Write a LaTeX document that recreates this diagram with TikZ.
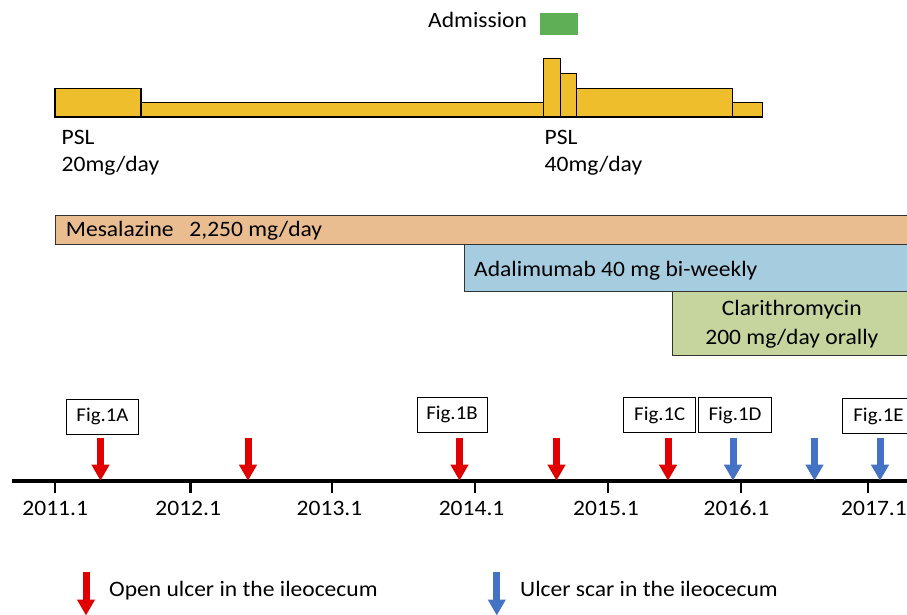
\documentclass[tikz,border=0pt]{standalone}
\usepackage{fontspec}
\setmainfont{Carlito}[FakeStretch=1.07]
\usetikzlibrary{arrows.meta}
\definecolor{pslY}{HTML}{EEBE2D}
\definecolor{mesaC}{HTML}{E9BD90}
\definecolor{adaC}{HTML}{A6CCDF}
\definecolor{claC}{HTML}{C6D59D}
\definecolor{admC}{HTML}{5EAF56}
\definecolor{redA}{HTML}{E00000}
\definecolor{blueA}{HTML}{4472C4}
\tikzset{
  bar/.style={draw=black, line width=1.3pt, fill=pslY},
  txt/.style={font=\fontsize{22}{26}\selectfont, inner sep=0pt},
  drugbox/.style={draw=black!80, line width=1pt},
  figbox/.style={draw=black, line width=1pt, font=\fontsize{19.5}{24}\selectfont, inner sep=0pt, minimum height=35pt},
  ulcer/.style={draw=redA, line width=7pt, -{Triangle[width=17pt,length=16pt]}},
  scar/.style={draw=blueA, line width=7pt, -{Triangle[width=17pt,length=16pt]}},
}
\begin{document}
\begin{tikzpicture}[x=1pt,y=-1pt]
\clip (0,0) rectangle (907,615);
\fill[white] (0,0) rectangle (907,615);

% Admission
\node[txt, anchor=base west] (adm) at (428,27.3) {Admission};
\fill[admC] (540,12.7) rectangle (577.7,35.3);

% PSL bars
\draw[bar] (55,88.3) rectangle (141,117);
\draw[bar] (141,102.3) rectangle (543.3,117);
\draw[bar] (543.3,58.3) rectangle (560.7,117);
\draw[bar] (560.7,73.3) rectangle (576.7,117);
\draw[bar] (576.7,88.3) rectangle (732.3,117);
\draw[bar] (732.3,102.3) rectangle (762.3,117);

\node[txt, anchor=base west] (psl1) at (61.5,145) {PSL};
\node[txt, anchor=base west] (dose1) at (61.5,171.7) {20mg/day};
\node[txt, anchor=base west] (psl2) at (544.5,145) {PSL};
\node[txt, anchor=base west] (dose2) at (544.5,171.7) {40mg/day};

% drug bars
\draw[drugbox, fill=mesaC] (55,215) rectangle (915,244);
\node[txt, anchor=base west] (mesa) at (65.7,236.7) {Mesalazine\hspace{0.72em}2,250 mg/day};
\draw[drugbox, fill=adaC] (464.3,244.3) rectangle (915,291.7);
\node[txt, anchor=base west] (ada) at (474,276) {Adalimumab 40 mg bi-weekly};
\draw[drugbox, fill=claC] (672.7,291.7) rectangle (915,355.7);
\node[txt, anchor=base] (cla1) at (791.8,315) {Clarithromycin};
\node[txt, anchor=base] (cla2) at (791.8,344.3) {200 mg/day orally};

% timeline axis
\coordinate (axL) at (12,481);
\coordinate (axR) at (910,481);
\draw[line width=3.3pt] (axL) -- (axR);
\foreach \tx/\lx/\yr [count=\k] in {55.2/55.2/2011.1, 190.5/188.2/2012.1, 331.8/329.5/2013.1, 474.8/471.6/2014.1, 608/606/2015.1, 741/736.5/2016.1, 868/874/2017.1}{
  \coordinate (tick\k a) at (\tx,481);
  \coordinate (tick\k b) at (\tx,493);
  \draw[line width=2.5pt] (tick\k a) -- (tick\k b);
  \node[txt, anchor=base] (lab\k) at (\lx,515) {\yr};
}

% Fig boxes
\node[figbox, minimum width=71.6pt] (figA) at (102.5,416.7) {Fig.1A};
\node[figbox, minimum width=70pt] (figB) at (452,414.8) {Fig.1B};
\node[figbox, minimum width=71.7pt] (figC) at (659.8,415) {Fig.1C};
\node[figbox, minimum width=73.4pt] (figD) at (735,415) {Fig.1D};
\node[figbox, minimum width=72pt] (figE) at (878.5,416.2) {Fig.1E};

% arrows
\foreach \ax [count=\i] in {100.5,248,459.5,556.5,668}{
  \coordinate (r\i t) at (\ax,437.7);
  \coordinate (r\i b) at (\ax,480.7);
  \draw[ulcer] (r\i t) -- (r\i b);
}
\foreach \ax [count=\i] in {733,814.5,880}{
  \coordinate (b\i t) at (\ax,437.7);
  \coordinate (b\i b) at (\ax,480.7);
  \draw[scar] (b\i t) -- (b\i b);
}

% legend
\coordinate (lrt) at (86,571.7);
\coordinate (lrb) at (86,615.5);
\draw[ulcer] (lrt) -- (lrb);
\node[txt, anchor=base west] (legR) at (109,596.7) {Open ulcer in the ileocecum};
\coordinate (lbt) at (496.8,571.7);
\coordinate (lbb) at (496.8,615.5);
\draw[scar] (lbt) -- (lbb);
\node[txt, anchor=base west] (legB) at (520,596.7) {Ulcer scar in the ileocecum};
\end{tikzpicture}
\end{document}
